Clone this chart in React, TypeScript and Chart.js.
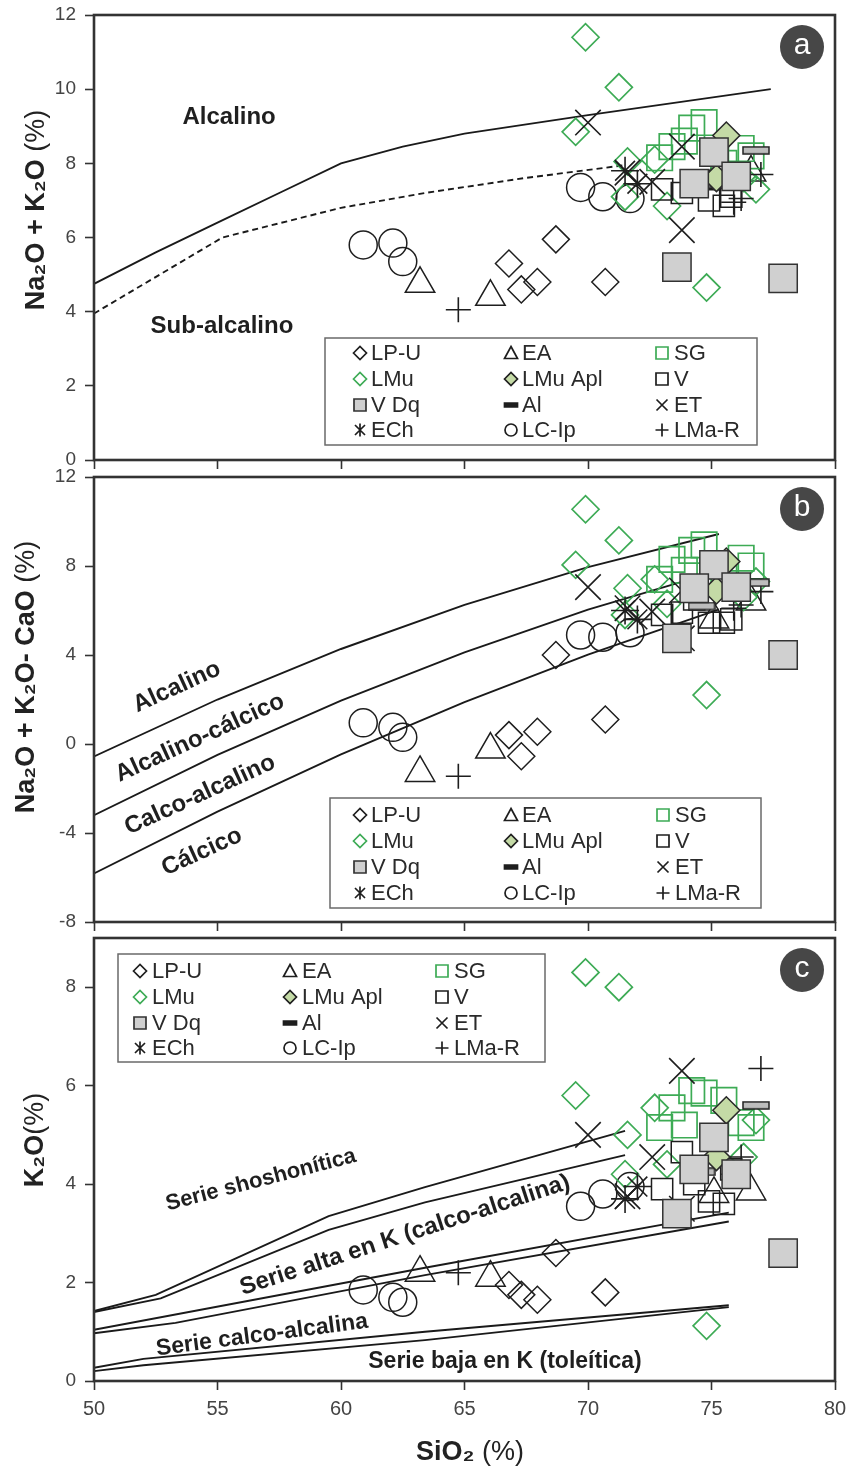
import React, { useEffect, useRef } from 'react';
import { Chart, registerables } from 'chart.js';
Chart.register(...registerables);

const FONT = '"Liberation Sans", Arial, Helvetica, sans-serif';

// ---------- axes ----------
const SIO2_MIN = 50;
const SIO2_MAX = 80;
const SIO2_STEP = 5;
const A_RANGE = [0, 12, 2];
const B_RANGE = [-8, 12, 4];
const C_RANGE = [0, 9, 2];

// ---------- series (x = SiO2, a = Na2O+K2O, b = Na2O+K2O-CaO, c = K2O) ----------
const LPU_X = [66.8, 67.3, 67.95, 68.7, 70.7];
const LPU_A = [5.3, 4.6, 4.8, 5.95, 4.8];
const LPU_B = [0.4, -0.55, 0.55, 4.0, 1.1];
const LPU_C = [1.95, 1.75, 1.65, 2.6, 1.8];

const EA_X = [63.2, 66.05, 75.1, 76.6];
const EA_A = [4.75, 4.4, 7.55, 7.75];
const EA_B = [-1.3, -0.25, 5.6, 6.4];
const EA_C = [2.2, 2.1, 3.8, 3.85];

const SG_X = [73.4, 74.2, 74.7, 72.9, 76.2, 76.6, 75.5, 73.9];
const SG_A = [8.45, 8.95, 9.1, 8.15, 8.4, 8.2, 8.0, 8.6];
const SG_B = [8.3, 8.7, 8.95, 7.4, 8.35, 8.0, 7.6, 7.8];
const SG_C = [5.55, 5.9, 5.85, 5.15, 5.25, 5.15, 5.7, 5.2];

const LMU_X = [69.9, 71.25, 69.5, 74.8, 71.6, 72.7, 71.5, 73.2, 76.8, 76.3];
const LMU_A = [11.4, 10.05, 8.85, 4.65, 8.05, 8.1, 7.1, 6.85, 7.3, 7.6];
const LMU_B = [10.55, 9.15, 8.05, 2.2, 7.0, 7.4, 5.8, 6.3, 7.3, 6.6];
const LMU_C = [8.3, 8.0, 5.8, 1.12, 5.0, 5.55, 4.2, 4.4, 5.3, 4.55];

const APL_X = [75.6, 75.2];
const APL_A = [8.75, 7.6];
const APL_B = [8.2, 6.9];
const APL_C = [5.5, 4.55];

const V_X = [74.9, 75.5, 73.8, 74.3, 75.8, 73.0];
const V_A = [7.0, 6.85, 7.2, 7.5, 7.1, 7.3];
const V_B = [5.45, 5.45, 5.9, 6.5, 5.6, 5.8];
const V_C = [3.65, 3.6, 4.65, 4.0, 4.3, 3.9];

const VDQ_X = [73.6, 77.9, 75.1, 76.0, 74.3];
const VDQ_A = [5.2, 4.9, 8.3, 7.65, 7.45];
const VDQ_B = [4.75, 4.0, 8.05, 7.05, 7.0];
const VDQ_C = [3.4, 2.6, 4.95, 4.2, 4.3];

const AL_X = [76.8, 74.6];
const AL_A = [8.35, 7.45];
const AL_B = [7.25, 6.2];
const AL_C = [5.6, 4.25];

const ET_X = [70.0, 73.8, 73.8, 71.6, 72.6];
const ET_A = [9.1, 8.45, 6.2, 7.75, 7.5];
const ET_B = [7.05, 6.9, 4.75, 6.1, 5.95];
const ET_C = [5.0, 6.3, 3.5, 3.75, 4.55];

const ECH_X = [71.5, 72.0];
const ECH_A = [7.8, 7.45];
const ECH_B = [6.0, 5.6];
const ECH_C = [3.7, 3.95];

const LCIP_X = [60.9, 62.1, 62.5, 69.7, 70.6, 71.7];
const LCIP_A = [5.8, 5.85, 5.35, 7.35, 7.1, 7.05];
const LCIP_B = [0.95, 0.75, 0.3, 4.9, 4.8, 5.0];
const LCIP_C = [1.85, 1.7, 1.6, 3.55, 3.8, 3.95];

const LMAR_X = [64.75, 77.0, 76.2, 75.9];
const LMAR_A = [4.05, 7.7, 7.05, 6.95];
const LMAR_B = [-1.45, 6.85, 6.25, 6.1];
const LMAR_C = [2.2, 6.35, 4.55, 4.2];

// ---------- boundary lines ----------
const A_SOLID_X = [50, 52.5, 55, 57.5, 60, 62.5, 65, 70, 77.4];
const A_SOLID_Y = [4.75, 5.6, 6.4, 7.2, 8.0, 8.45, 8.8, 9.3, 10.0];
const A_DASH_X = [50, 55.2, 60, 63.4, 67.4, 71.5];
const A_DASH_Y = [3.95, 6.0, 6.8, 7.2, 7.6, 7.95];

const B_LINE_X = [50, 55, 60, 65, 70, 75.3];
const B_L1_Y = [-0.56, 2.0, 4.27, 6.25, 7.95, 9.44];
const B_L2_Y = [-3.2, -0.49, 1.95, 4.12, 6.04, 7.78];
const B_L3_Y = [-5.82, -3.04, -0.47, 1.88, 4.02, 6.05];

const C_A_X = [50, 52.5, 59.5, 63.4, 71.5];
const C_A_Y = [1.42, 1.75, 3.35, 3.94, 5.08];
const C_B_X = [50, 52.7, 59.5, 63.4, 71.5];
const C_B_Y = [1.4, 1.68, 3.07, 3.63, 4.59];
const C_M1_X = [50, 63.4, 75.7];
const C_M1_Y = [1.04, 2.3, 3.42];
const C_M2_X = [50, 53.3, 63.4, 75.7];
const C_M2_Y = [0.97, 1.18, 2.15, 3.24];
const C_L1_X = [50, 52, 63.4, 75.7];
const C_L1_Y = [0.27, 0.45, 1.0, 1.54];
const C_L2_X = [50, 52, 63.4, 75.7];
const C_L2_Y = [0.2, 0.32, 0.83, 1.5];

// ---------- legend ----------
const LEGEND_LABELS = ['LP-U', 'EA', 'SG', 'LMu', 'LMu Apl', 'V', 'V Dq', 'Al', 'ET', 'ECh', 'LC-Ip', 'LMa-R'];

const GREEN = '#3dab55';
const BLACK = '#1e1e1e';
const GREY_FILL = '#d0d0d0';
const APL_FILL = '#c4daa6';

const LEGEND_MARKS: Record<string, { kind: string; stroke: string; fill?: string }> = {
  'LP-U': { kind: 'diamond', stroke: BLACK },
  EA: { kind: 'triangle', stroke: BLACK },
  SG: { kind: 'square', stroke: GREEN },
  LMu: { kind: 'diamond', stroke: GREEN },
  'LMu Apl': { kind: 'diamond', stroke: BLACK, fill: APL_FILL },
  V: { kind: 'square', stroke: BLACK },
  'V Dq': { kind: 'square', stroke: '#333', fill: GREY_FILL },
  Al: { kind: 'bar', stroke: BLACK, fill: BLACK },
  ET: { kind: 'x', stroke: BLACK },
  ECh: { kind: 'star', stroke: BLACK },
  'LC-Ip': { kind: 'circle', stroke: BLACK },
  'LMa-R': { kind: 'plus', stroke: BLACK },
};

type Run = { t: string; b?: boolean };

function drawRuns(ctx: CanvasRenderingContext2D, runs: Run[], cx: number, cy: number, size: number, rot: number, color: string) {
  ctx.save();
  ctx.translate(cx, cy);
  ctx.rotate((rot * Math.PI) / 180);
  ctx.fillStyle = color;
  ctx.textBaseline = 'middle';
  ctx.textAlign = 'left';
  const widths: number[] = [];
  let total = 0;
  runs.forEach((r) => {
    ctx.font = `${r.b ? 'bold ' : ''}${size}px ${FONT}`;
    const w = ctx.measureText(r.t).width;
    widths.push(w);
    total += w;
  });
  let x = -total / 2;
  runs.forEach((r, i) => {
    ctx.font = `${r.b ? 'bold ' : ''}${size}px ${FONT}`;
    ctx.fillText(r.t, x, 0);
    x += widths[i];
  });
  ctx.restore();
}

function drawMarker(ctx: CanvasRenderingContext2D, kind: string, x: number, y: number, stroke: string, fill?: string) {
  ctx.save();
  ctx.lineWidth = 1.7;
  ctx.strokeStyle = stroke;
  ctx.beginPath();
  if (kind === 'diamond') {
    const s = 6.5;
    ctx.moveTo(x - s, y);
    ctx.lineTo(x, y - s);
    ctx.lineTo(x + s, y);
    ctx.lineTo(x, y + s);
    ctx.closePath();
  } else if (kind === 'square') {
    const s = 6;
    ctx.rect(x - s, y - s, 2 * s, 2 * s);
  } else if (kind === 'triangle') {
    ctx.moveTo(x, y - 6.5);
    ctx.lineTo(x + 6.5, y + 5.5);
    ctx.lineTo(x - 6.5, y + 5.5);
    ctx.closePath();
  } else if (kind === 'circle') {
    ctx.arc(x, y, 6, 0, Math.PI * 2);
  } else if (kind === 'x') {
    const s = 5.5;
    ctx.moveTo(x - s, y - s);
    ctx.lineTo(x + s, y + s);
    ctx.moveTo(x + s, y - s);
    ctx.lineTo(x - s, y + s);
  } else if (kind === 'plus') {
    const s = 6.5;
    ctx.moveTo(x - s, y);
    ctx.lineTo(x + s, y);
    ctx.moveTo(x, y - s);
    ctx.lineTo(x, y + s);
  } else if (kind === 'star') {
    const s = 5;
    ctx.moveTo(x - s, y - s);
    ctx.lineTo(x + s, y + s);
    ctx.moveTo(x + s, y - s);
    ctx.lineTo(x - s, y + s);
    ctx.moveTo(x, y - 6.5);
    ctx.lineTo(x, y + 6.5);
  } else if (kind === 'bar') {
    ctx.rect(x - 6.5, y - 2, 13, 4);
  }
  if (fill) {
    ctx.fillStyle = fill;
    ctx.fill();
  }
  ctx.stroke();
  ctx.restore();
}

type Label = { t: string; x: number; y: number; rot: number; size: number };
type DecorOpts = {
  letter: string;
  legend: { box: number[]; mx: number[]; tx: number[]; rows: number[] };
  ytitle: { runs: Run[]; x: number; y: number };
  xtitle?: { runs: Run[]; x: number; y: number };
  labels: Label[];
};

const decorPlugin = {
  id: 'decor',
  afterDraw(chart: any, _args: any, opts: DecorOpts) {
    const ctx: CanvasRenderingContext2D = chart.ctx;
    const ca = chart.chartArea;
    const xs = chart.scales.x;
    const ys = chart.scales.y;
    // frame
    ctx.save();
    ctx.strokeStyle = '#333';
    ctx.lineWidth = 2.6;
    ctx.strokeRect(ca.left, ca.top, ca.right - ca.left, ca.bottom - ca.top);
    ctx.restore();
    // region labels
    opts.labels.forEach((l) => {
      drawRuns(ctx, [{ t: l.t, b: true }], xs.getPixelForValue(l.x), ys.getPixelForValue(l.y), l.size, l.rot, '#1f1f1f');
    });
    // legend
    const lg = opts.legend;
    ctx.save();
    ctx.fillStyle = '#ffffff';
    ctx.fillRect(lg.box[0], lg.box[1], lg.box[2] - lg.box[0], lg.box[3] - lg.box[1]);
    ctx.strokeStyle = '#6a6a6a';
    ctx.lineWidth = 1.5;
    ctx.strokeRect(lg.box[0], lg.box[1], lg.box[2] - lg.box[0], lg.box[3] - lg.box[1]);
    ctx.restore();
    LEGEND_LABELS.forEach((lab, i) => {
      const col = i % 3;
      const row = Math.floor(i / 3);
      const m = LEGEND_MARKS[lab];
      drawMarker(ctx, m.kind, lg.mx[col], lg.rows[row], m.stroke, m.fill);
      ctx.save();
      ctx.fillStyle = '#2a2a2a';
      ctx.font = `22px ${FONT}`;
      ctx.textBaseline = 'middle';
      ctx.textAlign = 'left';
      ctx.fillText(lab, lg.tx[col], lg.rows[row] + 1);
      ctx.restore();
    });
    // panel letter
    const cx = ca.right - 33;
    const cy = ca.top + 32;
    ctx.save();
    ctx.fillStyle = '#474747';
    ctx.beginPath();
    ctx.arc(cx, cy, 22, 0, Math.PI * 2);
    ctx.fill();
    ctx.fillStyle = '#ffffff';
    ctx.font = `30px ${FONT}`;
    ctx.textAlign = 'center';
    ctx.textBaseline = 'middle';
    ctx.fillText(opts.letter, cx, cy - 1);
    ctx.restore();
    // axis titles
    drawRuns(ctx, opts.ytitle.runs, opts.ytitle.x, opts.ytitle.y, 27, -90, '#222');
    if (opts.xtitle) drawRuns(ctx, opts.xtitle.runs, opts.xtitle.x, opts.xtitle.y, 27, 0, '#222');
  },
};

const pts = (xs: number[], ys: number[]) => xs.map((x, i) => ({ x, y: ys[i] }));

function makeBarImage() {
  const c = document.createElement('canvas');
  c.width = 28;
  c.height = 9;
  const g = c.getContext('2d')!;
  g.fillStyle = '#bdbdbd';
  g.fillRect(1, 1, 26, 7);
  g.strokeStyle = '#222';
  g.lineWidth = 1.5;
  g.strokeRect(1, 1, 26, 7);
  return c;
}

function buildConfig(panel: 'a' | 'b' | 'c', barImg: HTMLCanvasElement) {
  const pick = (a: number[], b: number[], c: number[]) => (panel === 'a' ? a : panel === 'b' ? b : c);
  const series = [
    { x: VDQ_X, y: pick(VDQ_A, VDQ_B, VDQ_C), style: 'rect', r: 20, border: '#333', bg: GREY_FILL, bw: 1.5 },
    { x: APL_X, y: pick(APL_A, APL_B, APL_C), style: 'rectRot', r: 13.5, border: '#2a2a2a', bg: APL_FILL, bw: 1.6 },
    { x: AL_X, y: pick(AL_A, AL_B, AL_C), style: barImg, r: 10, border: BLACK, bg: 'transparent', bw: 1.5 },
    { x: LMAR_X, y: pick(LMAR_A, LMAR_B, LMAR_C), style: 'cross', r: 12.5, border: BLACK, bg: 'transparent', bw: 1.6 },
    { x: ECH_X, y: pick(ECH_A, ECH_B, ECH_C), style: 'star', r: 14, border: BLACK, bg: 'transparent', bw: 1.6 },
    { x: ET_X, y: pick(ET_A, ET_B, ET_C), style: 'crossRot', r: 18, border: BLACK, bg: 'transparent', bw: 1.6 },
    { x: V_X, y: pick(V_A, V_B, V_C), style: 'rect', r: 15, border: BLACK, bg: 'transparent', bw: 1.5 },
    { x: SG_X, y: pick(SG_A, SG_B, SG_C), style: 'rect', r: 18, border: GREEN, bg: 'transparent', bw: 1.7 },
    { x: LMU_X, y: pick(LMU_A, LMU_B, LMU_C), style: 'rectRot', r: 13.5, border: GREEN, bg: 'transparent', bw: 1.7 },
    { x: EA_X, y: pick(EA_A, EA_B, EA_C), style: 'triangle', r: 17, border: BLACK, bg: 'transparent', bw: 1.5 },
    { x: LCIP_X, y: pick(LCIP_A, LCIP_B, LCIP_C), style: 'circle', r: 14, border: BLACK, bg: 'transparent', bw: 1.5 },
    { x: LPU_X, y: pick(LPU_A, LPU_B, LPU_C), style: 'rectRot', r: 13.5, border: BLACK, bg: 'transparent', bw: 1.5 },
  ];
  const datasets: any[] = series.map((s) => ({
    data: pts(s.x, s.y),
    pointStyle: s.style,
    pointRadius: s.r,
    pointBorderColor: s.border,
    pointBackgroundColor: s.bg,
    pointBorderWidth: s.bw,
    showLine: false,
  }));
  const line = (xs: number[], ys: number[], dash: number[] = []) => ({
    data: pts(xs, ys),
    showLine: true,
    pointRadius: 0,
    borderColor: '#1a1a1a',
    borderWidth: 1.9,
    borderDash: dash,
    fill: false,
    tension: 0,
  });
  if (panel === 'a') {
    datasets.push(line(A_SOLID_X, A_SOLID_Y), line(A_DASH_X, A_DASH_Y, [6, 4]));
  } else if (panel === 'b') {
    datasets.push(line(B_LINE_X, B_L1_Y), line(B_LINE_X, B_L2_Y), line(B_LINE_X, B_L3_Y));
  } else {
    datasets.push(
      line(C_A_X, C_A_Y),
      line(C_B_X, C_B_Y),
      line(C_M1_X, C_M1_Y),
      line(C_M2_X, C_M2_Y),
      line(C_L1_X, C_L1_Y),
      line(C_L2_X, C_L2_Y)
    );
  }

  const range = panel === 'a' ? A_RANGE : panel === 'b' ? B_RANGE : C_RANGE;
  const top = panel === 'a' ? 15 : panel === 'b' ? 477 : 938;
  const bottom = panel === 'a' ? 460 : panel === 'b' ? 922 : 1381;
  const xH = panel === 'c' ? 60 : 10;

  const decor: DecorOpts =
    panel === 'a'
      ? {
          letter: 'a',
          legend: { box: [325, 338, 757, 445], mx: [360, 511, 662], tx: [371, 522, 674], rows: [353, 379, 405, 430] },
          ytitle: { runs: [{ t: 'Na₂O + K₂O ', b: true }, { t: '(%)' }], x: 37, y: 210 },
          labels: [
            { t: 'Alcalino', x: 55.47, y: 9.25, rot: 0, size: 24 },
            { t: 'Sub-alcalino', x: 55.18, y: 3.59, rot: 0, size: 24 },
          ],
        }
      : panel === 'b'
      ? {
          letter: 'b',
          legend: { box: [330, 798, 761, 908], mx: [360, 511, 663], tx: [371, 522, 675], rows: [815, 841, 867, 893] },
          ytitle: { runs: [{ t: 'Na₂O + K₂O- CaO ', b: true }, { t: '(%)' }], x: 27, y: 677 },
          labels: [
            { t: 'Alcalino', x: 53.36, y: 2.56, rot: -24.5, size: 24 },
            { t: 'Alcalino-cálcico', x: 54.29, y: 0.27, rot: -24.5, size: 24 },
            { t: 'Calco-alcalino', x: 54.29, y: -2.29, rot: -24.5, size: 24 },
            { t: 'Cálcico', x: 54.37, y: -4.85, rot: -24.5, size: 24 },
          ],
        }
      : {
          letter: 'c',
          legend: { box: [118, 954, 545, 1062], mx: [140, 290, 442], tx: [152, 302, 454], rows: [971, 997, 1023, 1048] },
          ytitle: { runs: [{ t: 'K₂O', b: true }, { t: '(%)' }], x: 36, y: 1140 },
          xtitle: { runs: [{ t: 'SiO₂ ', b: true }, { t: '(%)' }], x: 470, y: 1453 },
          labels: [
            { t: 'Serie shoshonítica', x: 56.76, y: 4.08, rot: -14.5, size: 22 },
            { t: 'Serie alta en K (calco-alcalina)', x: 62.59, y: 2.96, rot: -18, size: 24 },
            { t: 'Serie calco-alcalina', x: 56.8, y: 0.93, rot: -7.5, size: 23 },
            { t: 'Serie baja en K (toleítica)', x: 66.64, y: 0.39, rot: 0, size: 23 },
          ],
        };

  const gridOpts = {
    drawOnChartArea: false,
    drawTicks: true,
    tickLength: 9,
    tickColor: '#333',
    tickWidth: 1.6,
  };

  return {
    type: 'scatter' as const,
    data: { datasets },
    plugins: [decorPlugin],
    options: {
      responsive: false,
      animation: false as const,
      events: [] as any[],
      layout: { autoPadding: false, padding: { left: 0, right: 14, top, bottom: 1472 - bottom - xH } },
      plugins: {
        legend: { display: false },
        tooltip: { enabled: false },
        decor,
      },
      scales: {
        x: {
          type: 'linear' as const,
          min: SIO2_MIN,
          max: SIO2_MAX,
          border: { display: false },
          grid: gridOpts,
          ticks: {
            stepSize: SIO2_STEP,
            display: panel === 'c',
            color: '#444',
            padding: 7,
            font: { family: FONT, size: 20 },
          },
          afterFit: (s: any) => {
            s.height = xH;
            s.paddingLeft = 0;
            s.paddingRight = 0;
          },
        },
        y: {
          type: 'linear' as const,
          min: range[0],
          max: range[1],
          border: { display: false },
          grid: gridOpts,
          ticks: {
            stepSize: range[2],
            includeBounds: false,
            color: '#444',
            padding: 9,
            font: { family: FONT, size: 19 },
          },
          afterFit: (s: any) => {
            s.width = 94;
            s.paddingTop = 0;
            s.paddingBottom = 0;
          },
        },
      },
    },
  };
}

export default function App() {
  const refA = useRef<HTMLCanvasElement>(null);
  const refB = useRef<HTMLCanvasElement>(null);
  const refC = useRef<HTMLCanvasElement>(null);

  useEffect(() => {
    const barImg = makeBarImage();
    const charts = [
      new Chart(refA.current!, buildConfig('a', barImg) as any),
      new Chart(refB.current!, buildConfig('b', barImg) as any),
      new Chart(refC.current!, buildConfig('c', barImg) as any),
    ];
    return () => charts.forEach((c) => c.destroy());
  }, []);

  const cs: React.CSSProperties = { position: 'absolute', left: 0, top: 0, width: 849, height: 1472 };
  return (
    <div style={{ position: 'absolute', left: 0, top: 0, width: 849, height: 1472, background: '#fff' }}>
      <canvas ref={refA} width={849} height={1472} style={cs} />
      <canvas ref={refB} width={849} height={1472} style={cs} />
      <canvas ref={refC} width={849} height={1472} style={cs} />
    </div>
  );
}
